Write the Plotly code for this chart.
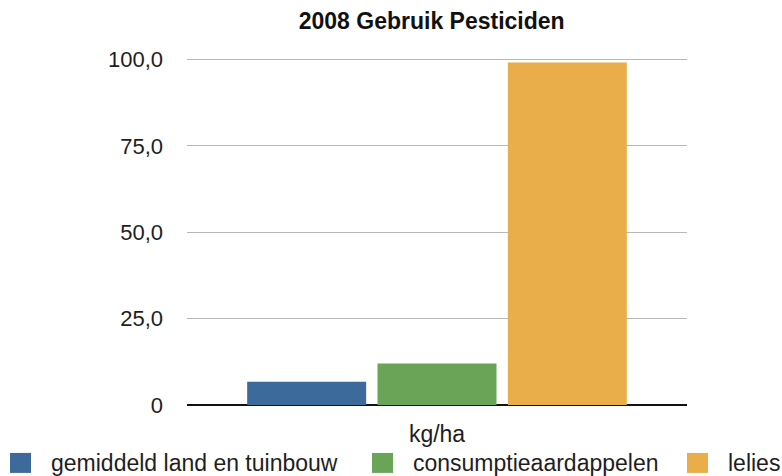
import plotly.graph_objects as go

title = "2008 Gebruik Pesticiden"
category = ["kg/ha"]
series_names = ["gemiddeld land en tuinbouw", "consumptieaardappelen", "lelies"]
series_values = [6.7, 12.0, 99.1]
series_colors = ["#3b6a9b", "#6aa456", "#e9ae4a"]
ytick_vals = [0, 25, 50, 75, 100]
ytick_text = ["0", "25,0", "50,0", "75,0", "100,0"]

FONT = "Liberation Sans, Arial, Helvetica, sans-serif"

fig = go.Figure()
for name, val, col in zip(series_names, series_values, series_colors):
    fig.add_trace(go.Bar(
        x=category, y=[val], name=name,
        marker=dict(color=col, line=dict(width=0)),
        showlegend=False,
    ))

# plot area in pixels: x 187..687, y 55.5..405 (0..101)
W, H = 782, 476
L, R, B = 187, 95, 71
YMAX = 101
T = (H - B) - 346 * YMAX / 100
pw, ph = W - L - R, H - T - B

def px_x(x):
    return (x - L) / pw

def px_y(y):
    return (H - B - y) / ph

# custom legend
legend_sq_x = [10, 372, 687]
legend_tx_x = [49, 411, 726]
sq_y0, sq_y1 = 453, 473
shapes = []
annotations = []
for name, col, sx, tx in zip(series_names, series_colors, legend_sq_x, legend_tx_x):
    shapes.append(dict(type="rect", xref="paper", yref="paper",
                       x0=px_x(sx), x1=px_x(sx + 21), y0=px_y(sq_y1), y1=px_y(sq_y0),
                       fillcolor=col, line=dict(width=0)))
    annotations.append(dict(xref="paper", yref="paper", x=px_x(tx), y=px_y(463),
                            xanchor="left", yanchor="middle", text=name, showarrow=False,
                            font=dict(family=FONT, size=23, color="#1e1e1e")))

fig.update_layout(
    width=W, height=H,
    margin=dict(l=L, r=R, t=T, b=B, autoexpand=False),
    paper_bgcolor="white", plot_bgcolor="white",
    title=dict(text="<b>" + title + "</b>", x=0.552, xanchor="center",
               y=1 - 21 / H, yanchor="middle", yref="container",
               font=dict(family=FONT, size=23, color="#111")),
    barmode="group", bargap=0.218, bargroupgap=0.087,
    font=dict(family=FONT, size=22, color="#1e1e1e"),
    xaxis=dict(showgrid=False, showline=False, zeroline=False, ticks="",
               ticklabelstandoff=13, tickfont=dict(size=23)),
    yaxis=dict(range=[0, YMAX], tickvals=ytick_vals, ticktext=ytick_text,
               showgrid=True, gridcolor="#b8b8b8", gridwidth=1,
               zeroline=True, zerolinecolor="#111", zerolinewidth=1.5,
               showline=False, ticks="", ticklabelstandoff=23,
               tickfont=dict(size=22)),
    shapes=shapes, annotations=annotations,
)

fig.write_html("out.html",
               config={"displayModeBar": False},
               post_script="document.body.style.margin='0';document.body.style.overflow='hidden';")
